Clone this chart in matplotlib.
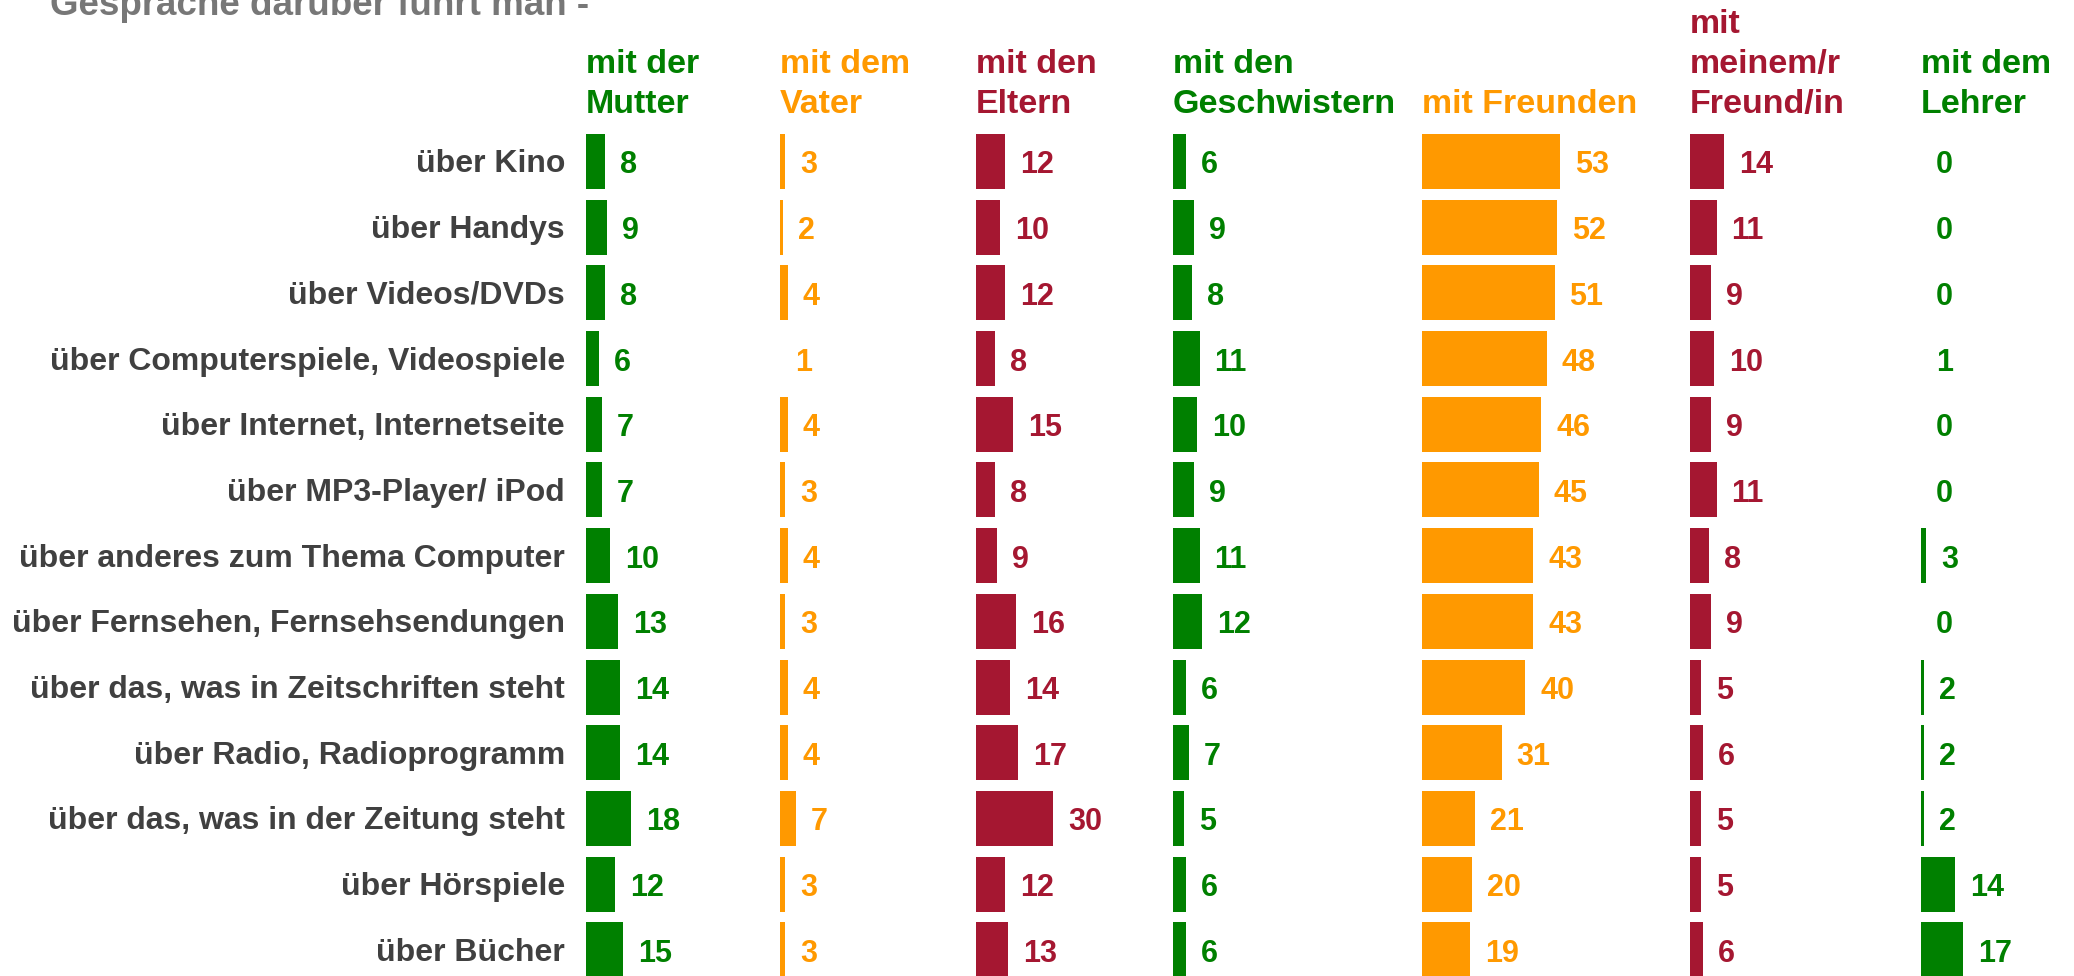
import matplotlib.pyplot as plt
import numpy as np

plt.rcParams['font.family'] = ['Liberation Sans', 'DejaVu Sans']

# data
topics = ["über Kino", "über Handys", "über Videos/DVDs",
          "über Computerspiele, Videospiele", "über Internet, Internetseite",
          "über MP3-Player/ iPod", "über anderes zum Thema Computer",
          "über Fernsehen, Fernsehsendungen", "über das, was in Zeitschriften steht",
          "über Radio, Radioprogramm", "über das, was in der Zeitung steht",
          "über Hörspiele", "über Bücher"]
headers = ["mit der\nMutter", "mit dem\nVater", "mit den\nEltern",
           "mit den\nGeschwistern", "mit Freunden", "mit\nmeinem/r\nFreund/in",
           "mit dem\nLehrer"]
mutter = [8, 9, 8, 6, 7, 7, 10, 13, 14, 14, 18, 12, 15]
vater = [3, 2, 4, 1, 4, 3, 4, 3, 4, 4, 7, 3, 3]
eltern = [12, 10, 12, 8, 15, 8, 9, 16, 14, 17, 30, 12, 13]
geschwister = [6, 9, 8, 11, 10, 9, 11, 12, 6, 7, 5, 6, 6]
freunde = [53, 52, 51, 48, 46, 45, 43, 43, 40, 31, 21, 20, 19]
freundin = [14, 11, 9, 10, 9, 11, 8, 9, 5, 6, 5, 5, 6]
lehrer = [0, 0, 0, 1, 0, 0, 3, 0, 2, 2, 2, 14, 17]
series = [mutter, vater, eltern, geschwister, freunde, freundin, lehrer]

GREEN, ORANGE, RED = "#008000", "#FF9900", "#A51731"
colors = [GREEN, ORANGE, RED, GREEN, ORANGE, RED, GREEN]

W, H, DPI = 2074, 976, 100
fig = plt.figure(figsize=(W / DPI, H / DPI), dpi=DPI)

starts = [586, 780, 976, 1173, 1422, 1690, 1921]  # column left edges, px
PX = 2.65            # px per percent
row0, step = 161.5, 65.7
PT = 72 / DPI        # px -> points
FS_VAL, FS_LAB, FS_HEAD = 22, 23, 24.5

rows = np.arange(len(topics))
for i, vals in enumerate(series):
    x0 = starts[i]
    x1 = starts[i + 1] if i + 1 < len(starts) else W
    ax = fig.add_axes([x0 / W, 0, (x1 - x0) / W, 1])
    ax.set_xlim(1, 1 + (x1 - x0) / PX)
    ax.set_ylim((H - row0) / step, -row0 / step)
    ax.axis('off')
    c = colors[i]
    ax.barh(rows, vals, height=55 / step, color=c, linewidth=0)
    for r, v in zip(rows, vals):
        ax.annotate(str(v), xy=(max(v, 1), r), xytext=(15 * PT, -12 * PT),
                    textcoords='offset points', ha='left', va='baseline',
                    color=c, fontsize=FS_VAL, fontweight='bold', annotation_clip=False)
    # header, one line at a time from the bottom
    lines = headers[i].split("\n")
    for k, line in enumerate(reversed(lines)):
        yb = (113 - 40 * k - row0) / step
        ax.text(1, yb, line, ha='left', va='baseline', color=c,
                fontsize=FS_HEAD, fontweight='bold', clip_on=False)
    if i == 0:
        for r, t in zip(rows, topics):
            ax.annotate(t, xy=(1, r), xytext=(-21 * PT, -11 * PT),
                        textcoords='offset points', ha='right', va='baseline',
                        color="#404040", fontsize=FS_LAB, fontweight='bold',
                        annotation_clip=False)

fig.text(50 / W, 1 - 15 / H, "Gespräche darüber führt man -", ha='left',
         va='baseline', color="#777777", fontsize=26.5, fontweight='bold')

fig.savefig("out.png", dpi=DPI)
